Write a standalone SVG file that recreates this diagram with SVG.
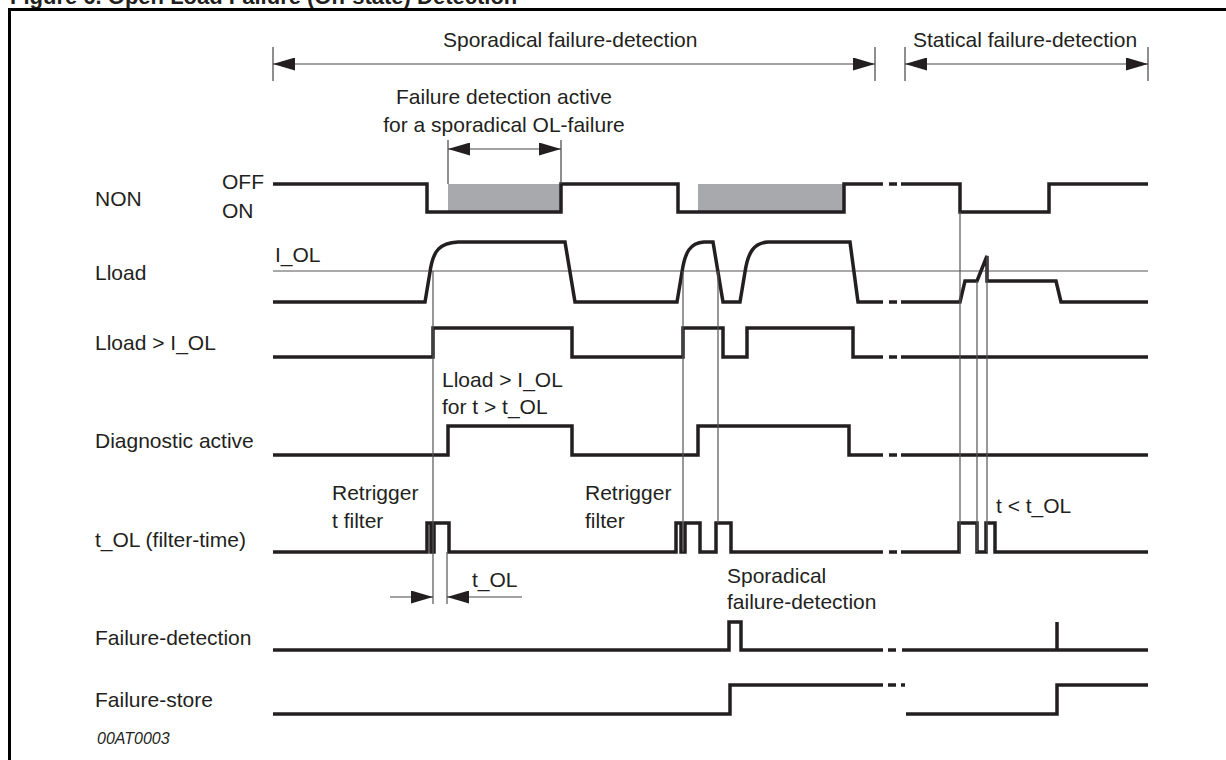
<svg xmlns="http://www.w3.org/2000/svg" width="1226" height="760" viewBox="0 0 1226 760">
<style>
text{font-family:"Liberation Sans",Arial,sans-serif;font-size:21px;fill:#231f20}
.title{font-weight:bold;font-size:22px}
.code{font-style:italic;font-size:16px}
.sig{fill:none;stroke:#231f20;stroke-width:3.5;stroke-linejoin:miter;stroke-linecap:butt}
.thin{fill:none;stroke:#555;stroke-width:1.2}
.dim{fill:none;stroke:#444;stroke-width:1.2}
.gray{fill:#a7a9ac}
.frame{fill:none;stroke:#000;stroke-width:3}
</style>
<defs>
<marker id="ah" viewBox="0 0 22 13" markerUnits="userSpaceOnUse" markerWidth="22" markerHeight="13" refX="22" refY="6.5" orient="auto-start-reverse">
<path d="M0,0 L22,6.5 L0,13 z" fill="#231f20"/>
</marker>
</defs>
<rect width="1226" height="760" fill="#fff"/>
<text class="title" x="10" y="4">Figure 6. Open Load Failure (On-state) Detection</text>
<path class="frame" d="M9.5 760 V9.5 H1226"/>

<g id="labels">
<text x="95" y="206">NON</text>
<text x="222" y="189">OFF</text>
<text x="222" y="218">ON</text>
<text x="95" y="280">Lload</text>
<text x="95" y="350">Lload &gt; I_OL</text>
<text x="95" y="448">Diagnostic active</text>
<text x="95" y="547">t_OL (filter-time)</text>
<text x="95" y="645">Failure-detection</text>
<text x="95" y="707">Failure-store</text>
<text class="code" x="97" y="744">00AT0003</text>
</g>

<g id="annotations">
<text x="443" y="47">Sporadical failure-detection</text>
<text x="913" y="47">Statical failure-detection</text>
<text x="504" y="104" text-anchor="middle">Failure detection active</text>
<text x="504" y="132" text-anchor="middle">for a sporadical OL-failure</text>
<text x="275" y="262">I_OL</text>
<text x="442" y="387">Lload &gt; I_OL</text>
<text x="442" y="414">for t &gt; t_OL</text>
<text x="332" y="500">Retrigger</text>
<text x="332" y="528">t filter</text>
<text x="585" y="500">Retrigger</text>
<text x="585" y="528">filter</text>
<text x="996" y="513">t &lt; t_OL</text>
<text x="472" y="587">t_OL</text>
<text x="727" y="583">Sporadical</text>
<text x="727" y="609">failure-detection</text>
</g>

<g id="sig-non">
<rect class="gray" x="448" y="184" width="113" height="28"/>
<rect class="gray" x="698" y="184" width="146" height="28"/>
<path class="sig" d="M273 184 H427 V212 H561 V184 H678 V212 H844 V184 H883 M889 184 H897 M901 184 H960 V212 H1049 V184 H1148"/>
</g>

<g id="sig-lload">
<path class="thin" d="M273 271 H1148"/>
<path class="sig" d="M273 302 H425 L430 272 C433 250 440 243 458 242 H565 L575 302 H677 L682 272 C685 252 690 243 704 242 H713 L723 302 H740 L745 272 C748 252 754 243 768 242 H850 L858 302 H883 M889 302 H897 M901 302 H960 L965 281 H977 L987 256 V281 H1056 L1061 302 H1148"/>
</g>

<g id="sig-lload-gt">
<path class="sig" d="M273 357 H433 V328 H572 V357 H683 V328 H723 V357 H747 V328 H853 V357 H883 M889 357 H897 M901 357 H1148"/>
</g>

<g id="sig-diag">
<path class="sig" d="M273 455 H448 V426 H572 V455 H698 V426 H849 V455 H883 M889 455 H897 M901 455 H1148"/>
</g>

<g id="sig-tol">
<path class="sig" d="M273 552 H427 V523 H431 V552 H434 V523 H449 V552 H676 V523 H681 V552 H685 V523 H700 V552 H716 V523 H731 V552 H883 M889 552 H897 M901 552 H959 V523 H977 V552 H986 V523 H995 V552 H1148"/>
</g>

<g id="sig-fdet">
<path class="sig" d="M273 650 H729 V622 H741 V650 H883 M888 650 H896 M902 650 H1057 V622 M1057 650 H1148"/>
</g>

<g id="sig-fstore">
<path class="sig" d="M273 714 H730 V685 H883 M888 685 H896 M901 685 H905 M906 714 H1057 V685 H1148"/>
</g>

<g id="connectors">
<path class="dim" d="M273 47 V81 M875 47 V81 M905 47 V81 M1148 47 V81"/>
<line class="dim" x1="273" y1="64" x2="875" y2="64" marker-start="url(#ah)" marker-end="url(#ah)"/>
<line class="dim" x1="905" y1="64" x2="1148" y2="64" marker-start="url(#ah)" marker-end="url(#ah)"/>
<path class="dim" d="M448 140 V184 M561 140 V184"/>
<line class="dim" x1="448" y1="149" x2="561" y2="149" marker-start="url(#ah)" marker-end="url(#ah)"/>
<path class="thin" d="M433 271 V604 M447 552 V604"/>
<line class="dim" x1="390" y1="597" x2="433" y2="597" marker-end="url(#ah)"/>
<line class="dim" x1="522" y1="597" x2="447" y2="597" marker-end="url(#ah)"/>
<path class="thin" d="M683 271 V552 M718 271 V523"/>
<path class="thin" d="M960 212 V552 M977 281 V552 M987 256 V552"/>
</g>
</svg>
